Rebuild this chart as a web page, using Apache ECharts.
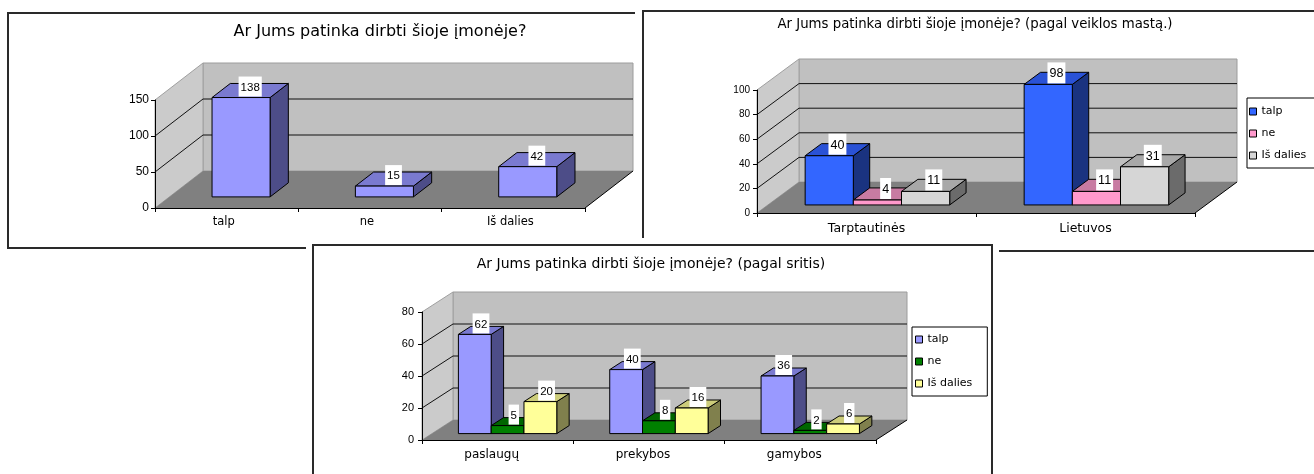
<!DOCTYPE html>
<html>
<head>
<meta charset="utf-8">
<script src="https://cdn.jsdelivr.net/npm/echarts@6/dist/echarts.min.js"></script>
<style>
html,body{margin:0;padding:0;background:#fff;}
#main{width:1314px;height:474px;}
</style>
</head>
<body>
<div id="main"></div>
<script>
// ---------- DATA ----------
const seriesNames = ['talp', 'ne', 'Iš dalies'];

const chart1Title = 'Ar Jums patinka dirbti šioje įmonėje?';
const chart1Categories = ['talp', 'ne', 'Iš dalies'];
const chart1Values = [138, 15, 42];
const chart1Ticks = [0, 50, 100, 150];

const chart2Title = 'Ar Jums patinka dirbti šioje įmonėje? (pagal veiklos mastą.)';
const chart2Categories = ['Tarptautinės', 'Lietuvos'];
const chart2Talp = [40, 98];
const chart2Ne = [4, 11];
const chart2IsDalies = [11, 31];
const chart2Ticks = [0, 20, 40, 60, 80, 100];

const chart3Title = 'Ar Jums patinka dirbti šioje įmonėje? (pagal sritis)';
const chart3Categories = ['paslaugų', 'prekybos', 'gamybos'];
const chart3Talp = [62, 40, 36];
const chart3Ne = [5, 8, 2];
const chart3IsDalies = [20, 16, 6];
const chart3Ticks = [0, 20, 40, 60, 80];

// ---------- STYLE / LAYOUT ----------
const FONT = 'Liberation Sans, Arial, sans-serif';
const WIDE = 'DejaVu Sans, sans-serif';
const charts = [
  { grid: { left: 155, top: 100, width: 430, height: 108 }, dx: 48, dy: -37, f0: 0.30, f1: 0.68, groupFrac: 0.405,
    categories: chart1Categories, ticks: chart1Ticks, yFont: 12, yMargin: 6, xFont: 11.5, xMargin: 8, xPad: [0, 6, 0, 0], labelFont: 11.5,
    series: [{ name: chart1Title, values: chart1Values, front: '#9999FF', top: '#7A7AD0', side: '#4D4D88' }] },
  { grid: { left: 757, top: 90, width: 438, height: 123 }, dx: 42, dy: -31, f0: 0.26, f1: 0.65, groupFrac: 0.66,
    categories: chart2Categories, ticks: chart2Ticks, yFont: 10, yMargin: 7, xFont: 12.5, xMargin: 9, xPad: [0, 0, 0, 0], labelFont: 12.5,
    series: [
      { name: seriesNames[0], values: chart2Talp, front: '#3366FF', top: '#2A52D6', side: '#1A3380' },
      { name: seriesNames[1], values: chart2Ne, front: '#FF99CC', top: '#C87BA2', side: '#804D66' },
      { name: seriesNames[2], values: chart2IsDalies, front: '#D6D6D6', top: '#A8A8A8', side: '#6B6B6B' }
    ] },
  { grid: { left: 422, top: 312, width: 454, height: 128 }, dx: 31, dy: -20, f0: 0.32, f1: 0.72, groupFrac: 0.65,
    categories: chart3Categories, ticks: chart3Ticks, yFont: 11, yMargin: 8, xFont: 12, xMargin: 9, xPad: [0, 12, 0, 0], labelFont: 11.5,
    series: [
      { name: seriesNames[0], values: chart3Talp, front: '#9999FF', top: '#7A7AD0', side: '#4D4D88' },
      { name: seriesNames[1], values: chart3Ne, front: '#008000', top: '#006600', side: '#004000' },
      { name: seriesNames[2], values: chart3IsDalies, front: '#FFFF99', top: '#CCCC7A', side: '#80804D' }
    ] }
];

function barGeom(cfg, si, api, cat, v) {
  const p0 = api.coord([cat, 0]);
  const pv = api.coord([cat, v]);
  const catW = api.size([1, 0])[0];
  const n = cfg.series.length;
  const groupW = catW * cfg.groupFrac;
  const bw = groupW / n;
  const ox = cfg.f0 * cfg.dx, oy = cfg.f0 * cfg.dy;
  const bdx = (cfg.f1 - cfg.f0) * cfg.dx, bdy = (cfg.f1 - cfg.f0) * cfg.dy;
  const xl = p0[0] - groupW / 2 + si * bw + ox;
  const xr = xl + bw;
  const yb = p0[1] + oy;
  const yt = pv[1] + oy;
  return { xl, xr, yb, yt, bdx, bdy };
}

function wallRender(cfg) {
  return function (params, api) {
    const cs = params.coordSys;
    const gx = cs.x, gw = cs.width;
    const max = cfg.ticks[cfg.ticks.length - 1];
    const y0 = api.coord([0, 0])[1];
    const yTop = api.coord([0, max])[1];
    const dx = cfg.dx, dy = cfg.dy;
    const ch = [];
    ch.push({ type: 'rect', shape: { x: gx + dx, y: yTop + dy, width: gw, height: y0 - yTop },
      style: { fill: '#C0C0C0', stroke: '#9C9C9C', lineWidth: 1 } });
    ch.push({ type: 'polygon', shape: { points: [[gx, y0], [gx + dx, y0 + dy], [gx + dx, yTop + dy], [gx, yTop]] },
      style: { fill: '#CBCBCB', stroke: '#A0A0A0', lineWidth: 1 } });
    ch.push({ type: 'polygon', shape: { points: [[gx, y0], [gx + gw, y0], [gx + gw + dx, y0 + dy], [gx + dx, y0 + dy]] },
      style: { fill: '#808080' } });
    ch.push({ type: 'line', shape: { x1: gx + gw, y1: y0, x2: gx + gw + dx, y2: y0 + dy },
      style: { stroke: '#000', lineWidth: 1 } });
    cfg.ticks.forEach(function (t) {
      if (t === 0 || t === max) return;
      const yv = api.coord([0, t])[1];
      ch.push({ type: 'line', shape: { x1: gx, y1: yv, x2: gx + dx, y2: yv + dy }, style: { stroke: '#111', lineWidth: 1 } });
      ch.push({ type: 'line', shape: { x1: gx + dx, y1: yv + dy, x2: gx + gw + dx, y2: yv + dy }, style: { stroke: '#111', lineWidth: 1 } });
    });
    return { type: 'group', children: ch };
  };
}

function barRender(cfg, si) {
  const s = cfg.series[si];
  return function (params, api) {
    const g = barGeom(cfg, si, api, api.value(0), api.value(1));
    const st = { stroke: '#000', lineWidth: 1, lineJoin: 'miter' };
    return { type: 'group', children: [
      { type: 'polygon', shape: { points: [[g.xr, g.yb], [g.xr + g.bdx, g.yb + g.bdy], [g.xr + g.bdx, g.yt + g.bdy], [g.xr, g.yt]] },
        style: Object.assign({ fill: s.side }, st) },
      { type: 'polygon', shape: { points: [[g.xl, g.yt], [g.xr, g.yt], [g.xr + g.bdx, g.yt + g.bdy], [g.xl + g.bdx, g.yt + g.bdy]] },
        style: Object.assign({ fill: s.top }, st) },
      { type: 'rect', shape: { x: g.xl, y: g.yt, width: g.xr - g.xl, height: g.yb - g.yt },
        style: Object.assign({ fill: s.front }, st) }
    ] };
  };
}

function labelRender(cfg) {
  return function (params, api) {
    const cat = api.value(0), v = api.value(1), si = api.value(2);
    const g = barGeom(cfg, si, api, cat, v);
    return { type: 'text', style: {
      text: String(v), x: (g.xl + g.xr) / 2 + g.bdx / 2, y: g.yt - 1,
      align: 'center', verticalAlign: 'bottom', textAlign: 'center', textVerticalAlign: 'bottom',
      font: cfg.labelFont + 'px ' + FONT, fill: '#000', backgroundColor: '#fff', padding: [5, 2, 3, 2]
    } };
  };
}

// ---------- OPTION ----------
const grids = [], xAxes = [], yAxes = [], series = [];
charts.forEach(function (cfg, ci) {
  const max = cfg.ticks[cfg.ticks.length - 1];
  grids.push(Object.assign({ outerBoundsMode: 'none', containLabel: false }, cfg.grid));
  xAxes.push({ gridIndex: ci, type: 'category', data: cfg.categories, boundaryGap: true,
    axisLine: { show: true, lineStyle: { color: '#000', width: 1 } },
    axisTick: { show: true, length: 4, lineStyle: { color: '#000' } },
    axisLabel: { show: true, interval: 0, color: '#000', fontSize: cfg.xFont, fontFamily: WIDE, margin: cfg.xMargin, padding: cfg.xPad },
    splitLine: { show: false }, z: 20 });
  yAxes.push({ gridIndex: ci, type: 'value', min: 0, max: max, interval: cfg.ticks[1] - cfg.ticks[0],
    axisLine: { show: true, lineStyle: { color: '#000', width: 1 } },
    axisTick: { show: true, length: 4, lineStyle: { color: '#000' } },
    axisLabel: { show: true, color: '#000', fontSize: cfg.yFont, fontFamily: FONT, margin: cfg.yMargin },
    splitLine: { show: false }, z: 20 });
  series.push({ type: 'custom', name: 'walls' + ci, xAxisIndex: ci, yAxisIndex: ci, clip: false, z: 2,
    silent: true, data: [[0, 0]], renderItem: wallRender(cfg) });
  const labelData = [];
  cfg.series.forEach(function (s, si) {
    series.push({ type: 'custom', name: s.name, xAxisIndex: ci, yAxisIndex: ci, clip: false, z: 3,
      itemStyle: { color: s.front }, encode: { x: 0, y: 1 },
      data: s.values.map(function (v, i) { return [i, v]; }), renderItem: barRender(cfg, si) });
    s.values.forEach(function (v, i) { labelData.push([i, v, si]); });
  });
  series.push({ type: 'custom', name: 'labels' + ci, xAxisIndex: ci, yAxisIndex: ci, clip: false, z: 10,
    encode: { x: 0, y: 1 }, data: labelData, renderItem: labelRender(cfg) });
});

function legendFor(cfg, left, top, pad) {
  return { show: true, orient: 'vertical', left: left, top: top, icon: 'rect', itemWidth: 7, itemHeight: 7,
    itemGap: 11, padding: pad, borderColor: '#000', borderWidth: 1, backgroundColor: '#fff',
    selectedMode: false, textStyle: { color: '#000', fontSize: 11, fontFamily: WIDE },
    itemStyle: { borderColor: '#000', borderWidth: 1 },
    data: cfg.series.map(function (s) { return { name: s.name, icon: 'rect', itemStyle: { color: s.front, borderColor: '#000', borderWidth: 1 } }; }) };
}

const BORDER = '#2a2a2a';
const option = {
  backgroundColor: '#fff',
  animation: false,
  grid: grids,
  xAxis: xAxes,
  yAxis: yAxes,
  legend: [legendFor(charts[1], 1247, 98, [8, 40, 7, 2]), legendFor(charts[2], 912, 327, [7, 15, 7, 3])],
  graphic: [
    { type: 'polyline', z: 0, shape: { points: [[635, 13], [8, 13], [8, 248], [306, 248]] }, style: { stroke: BORDER, lineWidth: 2, fill: null } },
    { type: 'polyline', z: 0, shape: { points: [[643, 238], [643, 11], [1320, 11]] }, style: { stroke: BORDER, lineWidth: 2, fill: null } },
    { type: 'line', z: 0, shape: { x1: 999, y1: 251, x2: 1320, y2: 251 }, style: { stroke: BORDER, lineWidth: 2 } },
    { type: 'rect', z: 0, shape: { x: 313, y: 245, width: 679, height: 260 }, style: { stroke: BORDER, lineWidth: 2, fill: '#fff' } },
    { type: 'text', z: 1, style: { text: chart1Title, x: 380, y: 32, align: 'center', verticalAlign: 'middle', textAlign: 'center', textVerticalAlign: 'middle', font: '16px ' + WIDE, fill: '#000' } },
    { type: 'text', z: 1, style: { text: chart2Title, x: 975, y: 25, align: 'center', verticalAlign: 'middle', textAlign: 'center', textVerticalAlign: 'middle', font: '13.3px ' + WIDE, fill: '#000' } },
    { type: 'text', z: 1, style: { text: chart3Title, x: 651, y: 264, align: 'center', verticalAlign: 'middle', textAlign: 'center', textVerticalAlign: 'middle', font: '14px ' + WIDE, fill: '#000' } }
  ],
  series: series
};

const chart = echarts.init(document.getElementById('main'), null, { renderer: 'canvas' });
chart.setOption(option);
</script>
</body>
</html>
